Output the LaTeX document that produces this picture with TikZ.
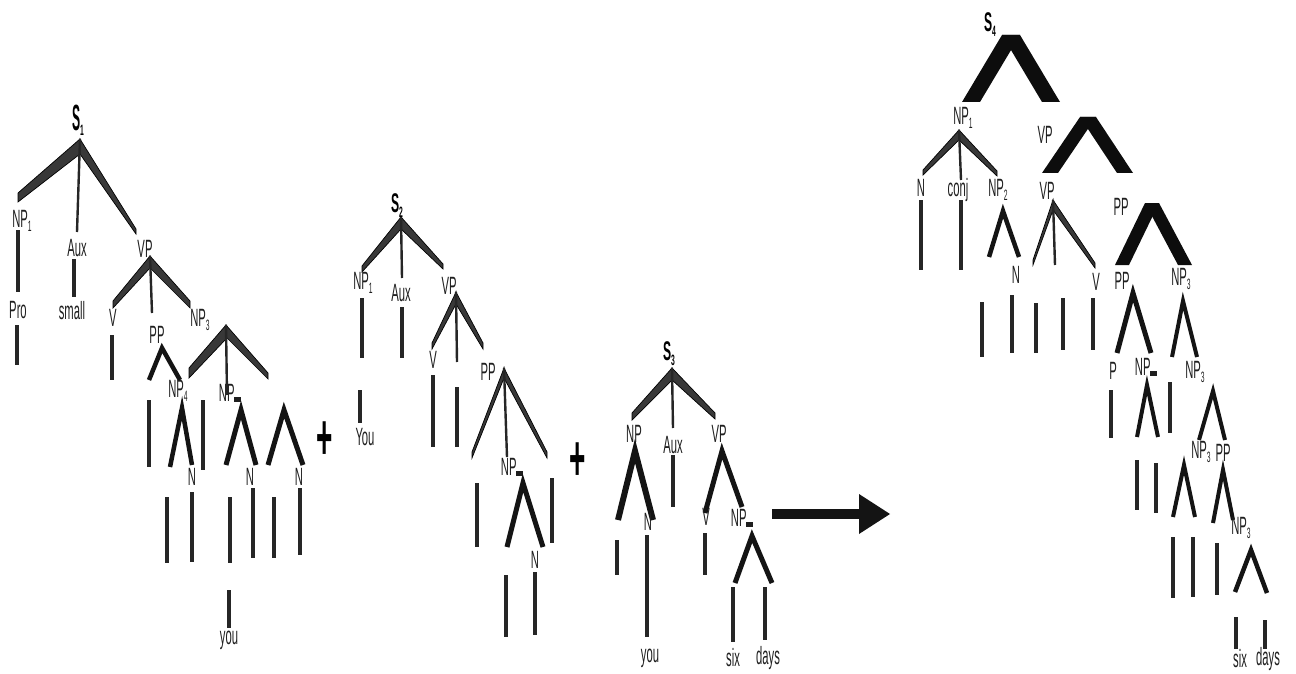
\documentclass[tikz,border=0pt]{standalone}
\usepackage{fontspec}
\setmainfont{Liberation Sans}
\newfontfamily\cond[FakeStretch=0.45]{Liberation Sans}
\usetikzlibrary{calc}

% subscripts and the bar that follows some NP labels
\newcommand{\nsub}[1]{\raisebox{-0.35ex}{\fontsize{15}{15}\selectfont #1}}
\newcommand{\nbar}{\hspace{-0.5pt}\rule{7pt}{5pt}}

\tikzset{
  lbl/.style={inner sep=0pt, font=\cond\fontsize{25}{25}\selectfont, text=black!88},
  sl/.style={inner sep=0pt, font=\cond\bfseries\fontsize{27}{27}\selectfont},
  plus/.style={inner sep=0pt, font=\bfseries\fontsize{28}{28}\selectfont},
  vl/.style={draw=black!85, line width=3.4pt},
  midl/.style={draw=black!85, line width=2.4pt},
  lamb/.style={draw=black!92, line join=miter, miter limit=20},
  gleg/.style={fill=black!78, draw=black, line width=0.7pt, line join=miter},
  bigfill/.style={fill=black!95},
}

% vertical stroke: name, x, top y, bottom y
\newcommand{\vln}[4]{\coordinate (#1t) at (#2,#3); \coordinate (#1b) at (#2,#4); \draw[vl] (#1t) -- (#1b);}
% two-legged fork: name, apex, left end, right end, stroke width
\newcommand{\tlam}[8]{\coordinate (#1a) at ($(#2,#3)+(0,3)$); \coordinate (#1l) at (#4,#5); \coordinate (#1r) at (#6,#7);
  \draw[lamb, line width=#8pt] (#1l) -- (#1a) -- (#1r);}
% grey wedge from an apex down to an end: thickness #3 at the apex, #4 at the end
\newcommand{\gleg}[4]{\filldraw[gleg] (#1) -- (#2) -- ($(#2)+(0,#4)$) -- ($(#1)+(0,#3)$) -- cycle;}
% heavy black leg, horizontal half-width #3
\newcommand{\hleg}[3]{\fill[bigfill] ($(#1)+(-#3,0)$) -- ($(#2)+(-#3,0)$) -- ($(#2)+(#3,0)$) -- ($(#1)+(#3,0)$) -- cycle;}

\begin{document}
\begin{tikzpicture}[x=1pt,y=-1pt]
\useasboundingbox (0,0) rectangle (1296,674);

% ================= S1 =================
\node[sl] (s1) at (78,120) {\scalebox{1}[1.35]{S}\nsub{1}};
\coordinate (s1a) at (80,139);
\coordinate (s1l) at (18,193);
\coordinate (s1m) at (77,232);
\coordinate (s1r) at (136,229);
\gleg{s1a}{s1l}{15}{9}
\gleg{s1a}{s1r}{15}{5}
\draw[midl] (s1a) -- (s1m);
\node[lbl] (s1np) at (22,221) {NP\nsub{1}};
\node[lbl] (s1aux) at (77,248) {Aux};
\node[lbl] (s1vp) at (145,249) {VP};
\vln{s1ka}{18}{230}{292}
\node[lbl] (s1pro) at (18,310) {Pro};
\vln{s1kb}{17}{325}{365}
\vln{s1kc}{74}{259}{297}
\node[lbl] (s1sm) at (72,311) {small};

\coordinate (s1vpa) at (150,256);
\coordinate (s1vpl) at (113,301);
\coordinate (s1vpm) at (152,313);
\coordinate (s1vpr) at (190,301);
\gleg{s1vpa}{s1vpl}{12}{7}
\gleg{s1vpa}{s1vpr}{12}{7}
\draw[midl] (s1vpa) -- (s1vpm);
\node[lbl] (s1v) at (113,318) {V};
\node[lbl] (s1pp) at (157,335) {PP};
\node[lbl] (s1np3) at (200,320) {NP\nsub{3}};
\vln{s1kd}{112}{335}{380}
\tlam{s1ppf}{162}{345}{149}{380}{180}{380}{4.5}

\coordinate (s1na) at (226,325);
\coordinate (s1nl) at (189,368);
\coordinate (s1nm) at (227,395);
\coordinate (s1nr) at (268,373);
\gleg{s1na}{s1nl}{14}{10}
\gleg{s1na}{s1nr}{12}{6}
\draw[midl] (s1na) -- (s1nm);
\node[lbl] (s1np4) at (178,391) {NP\nsub{4}};
\node[lbl] (s1np2) at (230,393) {NP\nbar};
\vln{s1ke}{149}{400}{467}
\vln{s1kf}{203}{400}{470}
\tlam{s1fa}{182}{405}{170}{467}{192}{465}{4.5}
\tlam{s1fb}{241}{407}{226}{465}{256}{465}{5}
\tlam{s1fc}{284}{407}{268}{465}{303}{465}{5}
\node[lbl] (s1n1) at (192,477) {N};
\node[lbl] (s1n2) at (250,477) {N};
\node[lbl] (s1n3) at (299,477) {N};
\vln{s1kg}{167}{497}{563}
\vln{s1kh}{192}{492}{562}
\vln{s1ki}{230}{497}{563}
\vln{s1kj}{253}{488}{558}
\vln{s1kk}{274}{497}{558}
\vln{s1kl}{300}{488}{555}
\vln{s1km}{229}{590}{628}
\node[lbl] (s1you) at (229,640) {you};
\node[plus] (plusa) at (325,441) {\scalebox{1}[2.3]{+}};

% ================= S2 =================
\node[sl] (s2) at (397,206) {S\nsub{2}};
\coordinate (s2a) at (401,217);
\coordinate (s2l) at (362,266);
\coordinate (s2m) at (402,278);
\coordinate (s2r) at (443,264);
\gleg{s2a}{s2l}{12}{6}
\gleg{s2a}{s2r}{12}{5}
\draw[midl] (s2a) -- (s2m);
\node[lbl] (s2np) at (363,283) {NP\nsub{1}};
\node[lbl] (s2aux) at (401,293) {Aux};
\node[lbl] (s2vp) at (449,286) {VP};
\vln{s2ka}{362}{298}{358}
\vln{s2kb}{402}{307}{358}
\vln{s2kc}{360}{390}{423}
\node[lbl] (s2you) at (365,437) {You};

\coordinate (s2va) at (456,292);
\coordinate (s2vl) at (432,343);
\coordinate (s2vm) at (457,362);
\coordinate (s2vr) at (483,343);
\gleg{s2va}{s2vl}{12}{6}
\gleg{s2va}{s2vr}{12}{6}
\draw[midl] (s2va) -- (s2vm);
\node[lbl] (s2v) at (433,360) {V};
\node[lbl] (s2pp) at (488,372) {PP};
\vln{s2kd}{433}{375}{447}
\vln{s2ke}{457}{387}{447}

\coordinate (s2pa) at (504,368);
\coordinate (s2pl) at (472,452);
\coordinate (s2pm) at (507,457);
\coordinate (s2pr) at (547,452);
\gleg{s2pa}{s2pl}{10}{6}
\gleg{s2pa}{s2pr}{10}{6}
\draw[midl] (s2pa) -- (s2pm);
\node[lbl] (s2np2) at (512,467) {NP\nbar};
\tlam{s2fa}{523}{480}{507}{547}{543}{547}{5}
\vln{s2kf}{477}{483}{547}
\vln{s2kg}{552}{478}{543}
\node[lbl] (s2n) at (535,560) {N};
\vln{s2kh}{506}{575}{637}
\vln{s2ki}{535}{572}{635}
\node[plus] (plusb) at (578,462) {\scalebox{1}[2.3]{+}};

% ================= S3 =================
\node[sl] (s3) at (669,354) {S\nsub{3}};
\coordinate (s3a) at (672,368);
\coordinate (s3l) at (632,413);
\coordinate (s3m) at (673,428);
\coordinate (s3r) at (715,413);
\gleg{s3a}{s3l}{12}{7}
\gleg{s3a}{s3r}{12}{6}
\draw[midl] (s3a) -- (s3m);
\node[lbl] (s3np) at (634,434) {NP};
\node[lbl] (s3aux) at (673,445) {Aux};
\node[lbl] (s3vp) at (719,434) {VP};
\tlam{s3fa}{635}{448}{618}{520}{653}{520}{6}
\vln{s3ka}{673}{455}{507}
\tlam{s3fb}{722}{448}{705}{513}{742}{507}{5}
\node[lbl] (s3n) at (648,522) {N};
\node[lbl] (s3v) at (706,517) {V};
\node[lbl] (s3np2) at (742,518) {NP\nbar};
\vln{s3kb}{617}{540}{575}
\vln{s3kc}{647}{535}{637}
\vln{s3kd}{705}{533}{575}
\node[lbl] (s3you) at (650,658) {you};
\tlam{s3fc}{752}{533}{735}{583}{772}{583}{5}
\vln{s3ke}{733}{587}{642}
\vln{s3kf}{765}{587}{640}
\node[lbl] (s3six) at (733,658) {six};
\node[lbl] (s3days) at (768,658) {days};

% transformation arrow
\coordinate (arrs) at (772,514);
\coordinate (arrb) at (859,514);
\coordinate (arrt) at (890,514);
\draw[line width=10pt, black!92] (arrs) -- (arrb);
\fill[black!92] ($(arrb)+(0,-20)$) -- (arrt) -- ($(arrb)+(0,20)$) -- cycle;

% ================= S4 =================
\node[sl] (s4) at (990,25) {S\nsub{4}};
\coordinate (s4a) at (1011,35);
\coordinate (s4l) at (971,102);
\coordinate (s4r) at (1051,102);
\hleg{s4a}{s4l}{9}
\hleg{s4a}{s4r}{9}
\node[lbl] (s4np) at (963,118) {NP\nsub{1}};
\node[lbl] (s4vp) at (1045,135) {VP};

\coordinate (s4na) at (959,130);
\coordinate (s4nl) at (923,170);
\coordinate (s4nm) at (961,180);
\coordinate (s4nr) at (997,171);
\gleg{s4na}{s4nl}{10}{5}
\gleg{s4na}{s4nr}{10}{5}
\draw[midl] (s4na) -- (s4nm);
\node[lbl] (s4n) at (921,188) {N};
\node[lbl] (s4conj) at (958,190) {conj};
\node[lbl] (s4np2) at (998,190) {NP\nsub{2}};
\vln{s4ka}{921}{200}{270}
\vln{s4kb}{961}{200}{270}
\tlam{s4fa}{1003}{208}{989}{257}{1019}{257}{4.5}
\node[lbl] (s4nn) at (1016,275) {N};

\coordinate (s4va) at (1088,117);
\coordinate (s4vl) at (1050,173);
\coordinate (s4vr) at (1125,173);
\hleg{s4va}{s4vl}{8}
\hleg{s4va}{s4vr}{8}
\node[lbl] (s4vp2) at (1047,191) {VP};
\coordinate (s4wa) at (1053,200);
\coordinate (s4wl) at (1033,260);
\coordinate (s4wm) at (1055,265);
\coordinate (s4wr) at (1095,263);
\gleg{s4wa}{s4wl}{10}{5}
\gleg{s4wa}{s4wr}{10}{5}
\draw[midl] (s4wa) -- (s4wm);
\node[lbl] (s4v) at (1096,282) {V};
\vln{s4kc}{982}{302}{357}
\vln{s4kd}{1012}{295}{353}
\vln{s4ke}{1036}{303}{353}
\vln{s4kf}{1063}{298}{350}
\vln{s4kg}{1093}{298}{350}

\node[lbl] (s4pp) at (1121,207) {PP};
\coordinate (s4pa) at (1152,203);
\coordinate (s4pl) at (1122,265);
\coordinate (s4pr) at (1185,265);
\hleg{s4pa}{s4pl}{7}
\hleg{s4pa}{s4pr}{7}
\node[lbl] (s4pp2) at (1122,281) {PP};
\node[lbl] (s4np3) at (1181,279) {NP\nsub{3}};
\tlam{s4fb}{1133}{290}{1117}{353}{1151}{353}{5}
\tlam{s4fc}{1183}{298}{1172}{357}{1197}{357}{4}
\node[lbl] (s4p) at (1113,371) {P};
\node[lbl] (s4np2b) at (1146,367) {NP\nbar};
\node[lbl] (s4np3b) at (1195,372) {NP\nsub{3}};
\vln{s4kh}{1111}{390}{438}
\tlam{s4fd}{1147}{382}{1137}{437}{1158}{437}{4}
\vln{s4ki}{1170}{382}{433}
\tlam{s4fe}{1213}{388}{1199}{440}{1225}{440}{4}
\node[lbl] (s4np3c) at (1201,452) {NP\nsub{3}};
\node[lbl] (s4pp3) at (1223,453) {PP};
\vln{s4kj}{1137}{460}{510}
\vln{s4kk}{1156}{463}{513}
\tlam{s4ff}{1184}{462}{1173}{517}{1195}{517}{4}
\tlam{s4fg}{1223}{467}{1213}{523}{1233}{520}{4}
\node[lbl] (s4np3d) at (1241,528) {NP\nsub{3}};
\vln{s4kl}{1173}{537}{598}
\vln{s4km}{1193}{537}{597}
\vln{s4kn}{1217}{543}{595}
\tlam{s4fh}{1251}{547}{1235}{592}{1267}{593}{4.5}
\vln{s4ko}{1236}{617}{649}
\vln{s4kp}{1265}{620}{649}
\node[lbl] (s4six) at (1240,659) {six};
\node[lbl] (s4days) at (1268,659) {days};
\end{tikzpicture}
\end{document}
